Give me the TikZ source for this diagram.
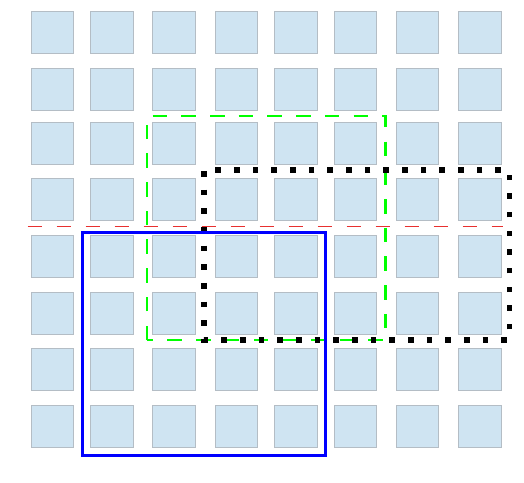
\documentclass[tikz,border=0pt]{standalone}
\begin{document}
\begin{tikzpicture}[x=1pt,y=-1pt,
  sq/.style={draw=sqborder,fill=sqfill,line width=0.9pt,inner sep=0pt,minimum width=42.5pt,minimum height=42pt},
  redline/.style={draw=redc,line width=1.3pt,dash pattern=on 14.3pt off 14.7pt},
  greenbox/.style={draw=greenc,line width=2.7pt,dash pattern=on 14.5pt off 14.2pt},
  blackbox/.style={draw=black,line width=5.6pt,dash pattern=on 5.6pt off 13.07pt,dash phase=17.77pt},
  bluebox/.style={draw=bluec,line width=2.5pt}]
\definecolor{sqfill}{HTML}{CFE4F2}
\definecolor{sqborder}{HTML}{B4BDC5}
\definecolor{redc}{HTML}{E8302F}
\definecolor{greenc}{HTML}{00FF00}
\definecolor{bluec}{HTML}{0000FF}
\useasboundingbox (0,0) rectangle (524,482);
\foreach \cx [count=\c] in {52.35,111.85,174,236.35,296,355.5,417.65,480}{
  \foreach \cy [count=\r] in {32.3,89.3,143,199.8,256.25,313.15,369.8,426.5}{
    \node[sq] (s\r-\c) at (\cx,\cy) {};
  }
}
\coordinate (redA) at (27.7,226.8);
\coordinate (redB) at (503,226.8);
\draw[redline] (redA) -- (redB);
% green dashed region
\coordinate (gBL) at (147,340);
\coordinate (gTL) at (147,116);
\coordinate (gTR) at (385.3,116);
\coordinate (gBR) at (385.3,340);
\draw[greenbox] (gBL) -- (gTL) -- (gTR) -- (gBR) -- cycle;
% black dotted region
\coordinate (kTL) at (203.7,170);
\coordinate (kBL) at (203.7,340);
\coordinate (kBR) at (509.5,340);
\coordinate (kTR) at (509.5,170);
\draw[blackbox] (kTL) -- (kBL) -- (kBR) -- (kTR) -- cycle;
% blue region
\coordinate (bTL) at (82.5,232.5);
\coordinate (bBR) at (325.5,455.5);
\draw[bluebox] (bTL) rectangle (bBR);
\end{tikzpicture}
\end{document}
